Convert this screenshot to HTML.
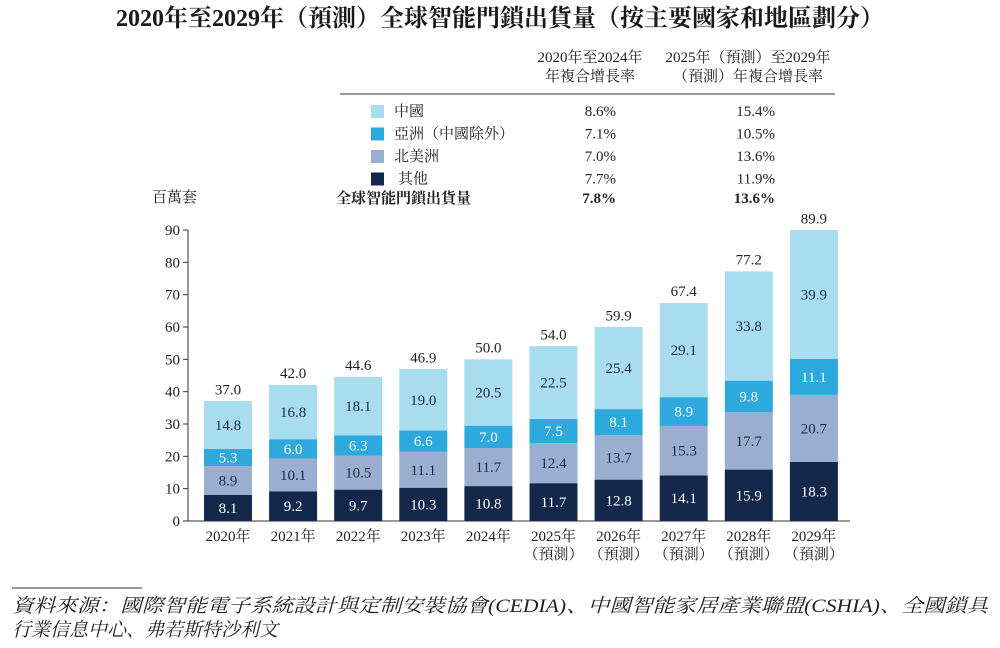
<!DOCTYPE html>
<html><head><meta charset="utf-8"><style>
body{margin:0;background:#fff;}
svg text{font-family:"Liberation Serif","Noto Serif CJK SC",serif;}
</style></head><body>
<svg width="1000" height="643" viewBox="0 0 1000 643">
<text x="500" y="26" text-anchor="middle" font-size="24" font-weight="bold" fill="#1a1a1a">2020年至2029年（預測）全球智能門鎖出貨量（按主要國家和地區劃分）</text>
<g font-size="15" fill="#222">
<text x="590" y="62" text-anchor="middle">2020年至2024年</text>
<text x="590" y="81" text-anchor="middle">年複合增長率</text>
<text x="748" y="62" text-anchor="middle">2025年（預測）至2029年</text>
<text x="748" y="81" text-anchor="middle">（預測）年複合增長率</text>
<line x1="340" y1="94" x2="835" y2="94" stroke="#333" stroke-width="1"/>
<g id="legend"></g>
<text x="336" y="203" font-weight="bold">全球智能門鎖出貨量</text>
<text x="616" y="203" text-anchor="end" font-weight="bold">7.8%</text>
<text x="775" y="203" text-anchor="end" font-weight="bold">13.6%</text>
</g>
<text x="152" y="202" font-size="15" fill="#222">百萬套</text>
<g id="chart"></g>
<line x1="12" y1="588" x2="142" y2="588" stroke="#333" stroke-width="1"/>
<text x="12" y="612" font-size="19" font-style="italic" fill="#222" textLength="976" lengthAdjust="spacingAndGlyphs">資料來源：國際智能電子系統設計與定制安裝協會(CEDIA)、中國智能家居產業聯盟(CSHIA)、全國鎖具</text>
<text x="12" y="636" font-size="19" font-style="italic" fill="#222">行業信息中心、弗若斯特沙利文</text>
</svg>
<script>
const categories=["2020年","2021年","2022年","2023年","2024年","2025年","2026年","2027年","2028年","2029年"];
const forecast=[false,false,false,false,false,true,true,true,true,true];
const other=[8.1,9.2,9.7,10.3,10.8,11.7,12.8,14.1,15.9,18.3];
const northAmerica=[8.9,10.1,10.5,11.1,11.7,12.4,13.7,15.3,17.7,20.7];
const asia=[5.3,6.0,6.3,6.6,7.0,7.5,8.1,8.9,9.8,11.1];
const china=[14.8,16.8,18.1,19.0,20.5,22.5,25.4,29.1,33.8,39.9];
const totals=[37.0,42.0,44.6,46.9,50.0,54.0,59.9,67.4,77.2,89.9];
const yTicks=[0,10,20,30,40,50,60,70,80,90];
const seriesNames=["中國","亞洲（中國除外）","北美洲","其他"];
const cagr1=["8.6%","7.1%","7.0%","7.7%"];
const cagr2=["15.4%","10.5%","13.6%","11.9%"];
const NS="http://www.w3.org/2000/svg";
function mk(t,a,p){const e=document.createElementNS(NS,t);for(const k in a)e.setAttribute(k,a[k]);p.appendChild(e);return e;}
const y0=521,yScale=(521-230)/90;
const y=v=>y0-v*yScale;
const x=i=>204+i*65.1;
const bw=48;
const g=document.getElementById('chart');
const ya=mk('line',{x1:188,y1:230,x2:188,y2:521,stroke:'#333'},g);


const base=mk('line',{x1:188,y1:521,x2:850,y2:521,stroke:'#333'},g);


yTicks.forEach(t=>{
 const l=mk('line',{x1:183,x2:188,y1:y(t),y2:y(t),stroke:'#333'},g);
 
 
 const tx=mk('text',{x:180,y:y(t)+5,'text-anchor':'end','font-size':15,fill:'#222'},g);
 tx.textContent=t;
 
 
});
const series=[{d:other,c:'#13284a',tc:'#fff',n:'other'},{d:northAmerica,c:'#9aaecf',tc:'#1a2a45',n:'north-america'},{d:asia,c:'#2ea9de',tc:'#fff',n:'asia'},{d:china,c:'#a8dcef',tc:'#1a2a45',n:'china'}];
categories.forEach((c,i)=>{
 let cum=0;
 series.forEach(s=>{
  const v=s.d[i];
  const r=mk('rect',{x:x(i),y:y(cum+v),width:bw,height:v*yScale,fill:s.c},g);
  
  
  const t=mk('text',{x:x(i)+bw/2,y:y(cum+v/2)+5,'text-anchor':'middle','font-size':15,fill:s.tc},g);
  t.textContent=v.toFixed(1);
  
  
  cum+=v;
 });
 const tt=mk('text',{x:x(i)+bw/2,y:y(totals[i])-7,'text-anchor':'middle','font-size':15,fill:'#222'},g);
 tt.textContent=totals[i].toFixed(1);
 
 
 const cl=mk('text',{x:x(i)+bw/2,y:541,'text-anchor':'middle','font-size':15,fill:'#222'},g);
 cl.textContent=c;
 
 
 if(forecast[i]){
  const f=mk('text',{x:x(i)+bw/2,y:559,'text-anchor':'middle','font-size':15,fill:'#222'},g);
  f.textContent='（預測）';
  
  
 }
});
const lg=document.getElementById('legend');
const lc=['#a8dcef','#2ea9de','#9aaecf','#13284a'];
seriesNames.forEach((n,i)=>{
 const yy=111+i*22.5;
 const r=mk('rect',{x:371,y:yy-6,width:13,height:13,fill:lc[i]},lg);
 
 
 const t=mk('text',{x:i==3?398:394,y:yy+5,'font-size':15,fill:'#222'},lg);
 t.textContent=n;
 
 
 const a=mk('text',{x:616,y:yy+5,'text-anchor':'end','font-size':15,fill:'#222'},lg);
 a.textContent=cagr1[i];
 
 
 const b=mk('text',{x:775,y:yy+5,'text-anchor':'end','font-size':15,fill:'#222'},lg);
 b.textContent=cagr2[i];
 
 
});
</script>
</body></html>
